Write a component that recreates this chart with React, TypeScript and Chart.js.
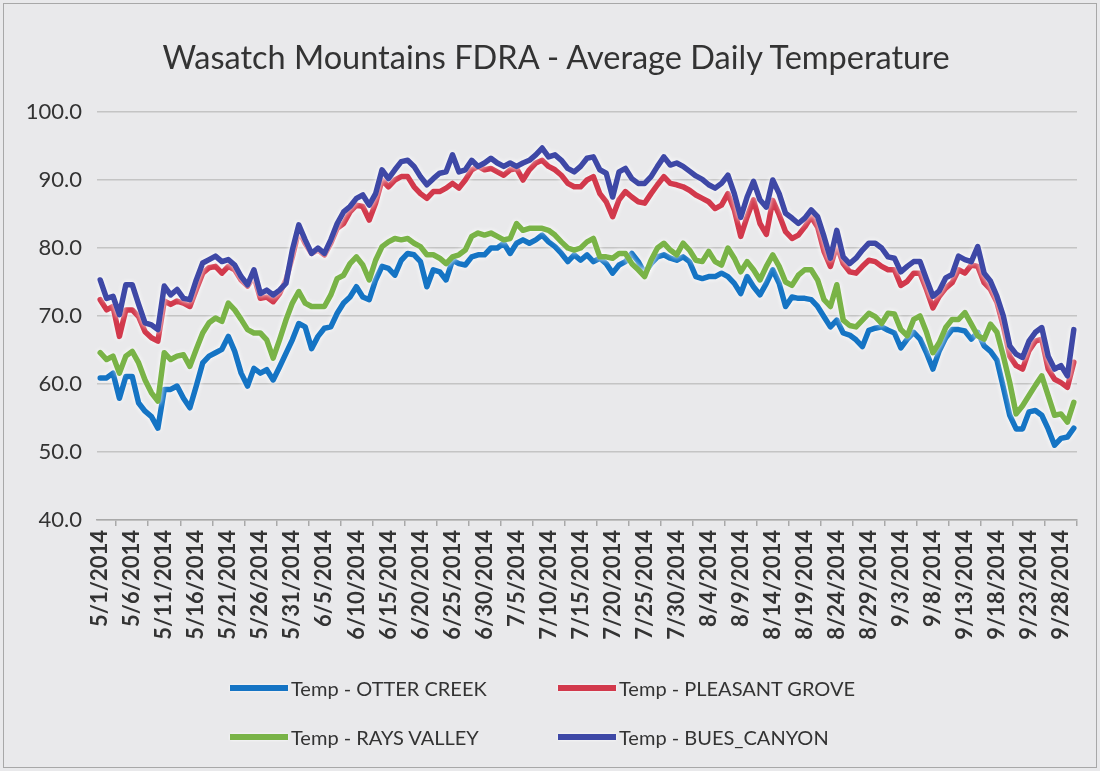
import React, { useEffect, useRef } from 'react';
import { Chart, registerables } from 'chart.js';

Chart.register(...registerables);

// ---- categories ----
const MONTHS = [5, 6, 7, 8, 9];
const MONTH_LENGTHS = [31, 30, 31, 31, 30];
const categories: string[] = [];
MONTHS.forEach((m, k) => {
  for (let d = 1; d <= MONTH_LENGTHS[k]; d++) categories.push(`${m}/${d}/2014`);
});

// ---- series (average daily temperature, °F) ----
const otterCreek = [
  60.9, 60.9, 61.6, 57.9, 61.1, 61.1, 57.2, 56.0, 55.2, 53.5,
  59.2, 59.2, 59.7, 57.9, 56.5, 59.7, 63.1, 64.1, 64.6, 65.1,
  67.0, 64.8, 61.6, 59.7, 62.3, 61.6, 62.1, 60.6, 62.5, 64.5,
  66.5, 68.9, 68.4, 65.2, 67.0, 68.2, 68.4, 70.4, 71.9, 72.8,
  74.3, 72.8, 72.4, 75.3, 77.3, 77.0, 76.0, 78.2, 79.2, 79.0,
  78.0, 74.3, 76.8, 76.5, 75.3, 78.2, 77.7, 77.5, 78.7, 79.0,
  79.0, 80.0, 80.0, 80.7, 79.2, 80.7, 81.2, 80.7, 81.2, 81.9,
  80.9, 80.2, 79.2, 78.0, 79.0, 78.2, 79.0, 78.0, 78.5, 77.7,
  76.3, 77.5, 78.0, 79.2, 78.0, 76.3, 77.7, 78.7, 79.0, 78.5,
  78.2, 78.7, 78.0, 75.8, 75.5, 75.8, 75.8, 76.3, 75.8, 74.8,
  73.3, 75.8, 74.3, 73.1, 74.8, 76.8, 74.8, 71.4, 72.8, 72.6,
  72.6, 72.4, 71.4, 69.9, 68.4, 69.4, 67.5, 67.2, 66.5, 65.5,
  67.9, 68.2, 68.4, 67.9, 67.5, 65.3, 66.6, 67.6, 66.6, 64.6,
  62.2, 64.9, 66.8, 68.0, 68.0, 67.8, 66.6, 67.6, 65.6, 64.8,
  63.5, 59.5, 55.4, 53.4, 53.4, 55.9, 56.1, 55.4, 53.4, 51.0,
  52.0, 52.2, 53.5,
];

const pleasantGrove = [
  72.4, 70.9, 71.4, 67.0, 70.9, 70.9, 69.9, 67.7, 66.8, 66.3,
  72.2, 71.7, 72.2, 71.9, 71.4, 73.9, 76.3, 77.1, 77.3, 76.3,
  77.3, 76.8, 75.3, 74.4, 75.8, 72.6, 72.8, 72.1, 73.3, 75.3,
  78.7, 82.6, 80.7, 79.2, 79.7, 79.0, 80.7, 82.9, 83.6, 85.3,
  86.3, 86.1, 84.1, 86.6, 90.0, 89.0, 90.0, 90.5, 90.5, 89.0,
  88.0, 87.3, 88.3, 88.3, 88.8, 89.5, 88.8, 90.0, 91.5, 92.0,
  91.5, 91.7, 91.2, 90.7, 91.5, 91.7, 90.0, 91.5, 92.5, 92.9,
  92.0, 91.5, 90.7, 89.5, 89.0, 89.0, 90.0, 90.5, 88.0, 86.8,
  84.6, 87.1, 88.3, 87.5, 86.8, 86.6, 88.0, 89.3, 90.5, 89.5,
  89.3, 89.0, 88.5, 87.8, 87.3, 86.8, 85.8, 86.3, 88.0, 85.6,
  81.7, 84.6, 87.1, 83.6, 82.0, 87.0, 84.9, 82.4, 81.4, 81.9,
  83.1, 84.6, 83.1, 79.5, 77.3, 80.4, 77.7, 76.5, 76.3, 77.3,
  78.2, 78.0, 77.3, 76.8, 76.8, 74.5, 75.1, 76.3, 76.3, 73.9,
  71.2, 72.9, 74.1, 74.9, 76.8, 76.3, 77.5, 77.3, 74.9, 73.9,
  72.0, 68.5, 64.1, 62.7, 62.2, 64.9, 66.3, 66.6, 62.2, 60.7,
  60.2, 59.5, 63.2,
];

const raysValley = [
  64.6, 63.6, 64.1, 61.6, 64.1, 64.8, 63.1, 60.6, 58.7, 57.5,
  64.6, 63.6, 64.1, 64.3, 62.6, 65.1, 67.5, 69.0, 69.7, 69.2,
  71.9, 70.9, 69.5, 68.0, 67.5, 67.5, 66.5, 63.8, 66.5, 69.4,
  71.9, 73.6, 71.9, 71.4, 71.4, 71.4, 73.1, 75.5, 76.0, 77.7,
  78.7, 77.5, 75.3, 78.2, 80.2, 80.9, 81.4, 81.2, 81.4, 80.7,
  80.2, 79.0, 79.0, 78.5, 77.7, 78.7, 79.0, 79.7, 81.7, 82.2,
  81.9, 82.2, 81.7, 81.2, 81.4, 83.6, 82.6, 82.9, 82.9, 82.9,
  82.6, 81.9, 80.9, 80.0, 79.7, 80.0, 80.9, 81.4, 78.7, 78.7,
  78.5, 79.2, 79.2, 77.7, 76.8, 75.8, 78.2, 80.0, 80.7, 79.7,
  79.0, 80.7, 79.7, 78.2, 78.0, 79.5, 78.0, 77.5, 80.0, 78.5,
  76.5, 78.0, 76.8, 75.3, 77.3, 79.0, 77.3, 75.0, 74.5, 76.0,
  76.8, 76.8, 75.3, 72.4, 71.4, 74.6, 69.4, 68.6, 68.4, 69.4,
  70.4, 69.9, 68.9, 70.4, 70.3, 68.0, 67.1, 69.5, 70.0, 67.6,
  64.6, 66.1, 68.3, 69.5, 69.5, 70.5, 68.8, 67.1, 66.6, 68.8,
  67.6, 64.1, 60.2, 55.6, 56.8, 58.3, 59.8, 61.2, 58.3, 55.4,
  55.6, 54.4, 57.3,
];

const buesCanyon = [
  75.3, 72.6, 72.9, 70.2, 74.6, 74.6, 71.7, 69.0, 68.7, 68.0,
  74.4, 73.1, 73.9, 72.6, 72.4, 75.3, 77.8, 78.3, 78.8, 78.0,
  78.3, 77.5, 75.8, 74.6, 76.8, 73.3, 73.8, 73.1, 73.8, 74.8,
  79.7, 83.4, 81.2, 79.2, 80.0, 79.2, 81.2, 83.6, 85.3, 86.1,
  87.3, 87.8, 86.3, 88.0, 91.5, 90.2, 91.5, 92.7, 92.9, 92.0,
  90.5, 89.3, 90.2, 91.0, 91.2, 93.7, 91.2, 91.5, 92.9, 92.0,
  92.5, 93.2, 92.5, 92.0, 92.5, 92.0, 92.5, 92.9, 93.7, 94.7,
  93.4, 93.7, 92.9, 91.7, 91.2, 92.0, 93.2, 93.4, 91.5, 91.0,
  87.5, 91.2, 91.7, 90.2, 89.5, 89.5, 90.5, 92.0, 93.4, 92.2,
  92.5, 92.0, 91.3, 90.6, 90.1, 89.3, 88.8, 89.5, 90.7, 88.0,
  84.5, 87.5, 89.8, 87.1, 86.0, 90.0, 88.0, 85.1, 84.4, 83.6,
  84.4, 85.6, 84.6, 81.7, 78.5, 82.6, 78.7, 77.7, 78.5, 79.7,
  80.7, 80.7, 80.0, 78.7, 78.5, 76.5, 77.3, 78.0, 78.0, 75.4,
  72.9, 73.7, 75.6, 76.1, 78.8, 78.3, 78.0, 80.2, 76.3, 75.1,
  72.9, 70.0, 65.6, 64.4, 63.9, 66.3, 67.6, 68.3, 64.1, 62.2,
  62.7, 61.2, 68.0,
];

const seriesNames = [
  'Temp - OTTER CREEK',
  'Temp - PLEASANT GROVE',
  'Temp - RAYS VALLEY',
  'Temp - BUES_CANYON',
];
const seriesColors = ['#1574c4', '#d2394c', '#79b347', '#3e48a6'];
const seriesData = [otterCreek, pleasantGrove, raysValley, buesCanyon];

const Y_MIN = 40;
const Y_MAX = 100;
const Y_STEP = 10;
const LABEL_EVERY = 5;

const TITLE = 'Wasatch Mountains FDRA - Average Daily Temperature';
const FONT = "Lato, 'Liberation Sans', sans-serif";
const TEXT_COLOR = '#333333';
const BG = '#e9e9eb';

const glowPlugin = {
  id: 'lineGlow',
  beforeDatasetDraw(chart: any) {
    const ctx = chart.ctx;
    ctx.save();
    ctx.shadowColor = 'rgba(255,255,255,1)';
    ctx.shadowBlur = 5;
  },
  afterDatasetDraw(chart: any) {
    chart.ctx.restore();
  },
};

// legend placement (layout only)
const legendSlots = [
  { left: 230, top: 688 },
  { left: 558, top: 688 },
  { left: 230, top: 737 },
  { left: 558, top: 737 },
];

export default function App() {
  const canvasRef = useRef<HTMLCanvasElement | null>(null);

  useEffect(() => {
    if (!canvasRef.current) return;
    const chart = new Chart(canvasRef.current, {
      type: 'line',
      data: {
        labels: categories,
        datasets: seriesData.map((d, i) => ({
          label: seriesNames[i],
          data: d,
          borderColor: seriesColors[i],
          backgroundColor: seriesColors[i],
          borderWidth: 5.5,
          pointRadius: 0,
          pointHoverRadius: 0,
          tension: 0,
          fill: false,
          borderJoinStyle: 'round' as const,
          borderCapStyle: 'round' as const,
          order: seriesData.length - 1 - i,
        })),
      },
      options: {
        animation: false,
        responsive: false,
        maintainAspectRatio: false,
        layout: { padding: { left: 0, right: 23, top: 112, bottom: 0 } },
        plugins: {
          legend: { display: false },
          tooltip: { enabled: false },
          title: { display: false },
        },
        scales: {
          x: {
            type: 'category',
            offset: true,
            grid: {
              display: true,
              offset: true,
              drawOnChartArea: false,
              drawTicks: true,
              tickLength: 6,
              color: '#a9a9a9',
              lineWidth: 1.5,
            },
            border: { display: true, color: '#a9a9a9', width: 1.5 },
            ticks: {
              autoSkip: false,
              minRotation: 90,
              maxRotation: 90,
              padding: 4,
              color: TEXT_COLOR,
              font: { family: FONT, size: 22, weight: 'bold' },
              callback: (_v: any, idx: number) =>
                idx % LABEL_EVERY === 0 ? categories[idx] : null,
            },
            afterFit: (scale: any) => {
              scale.height = 251;
            },
          },
          y: {
            min: Y_MIN,
            max: Y_MAX,
            grid: {
              color: '#c4c4c4',
              lineWidth: 1.5,
              drawTicks: false,
            },
            border: { display: false },
            ticks: {
              stepSize: Y_STEP,
              padding: 15,
              color: TEXT_COLOR,
              font: { family: FONT, size: 22, weight: 'normal' },
              callback: (v: any) => Number(v).toFixed(1),
            },
            afterFit: (scale: any) => {
              scale.width = 97;
            },
          },
        },
      },
      plugins: [glowPlugin],
    });
    return () => chart.destroy();
  }, []);

  return (
    <div
      style={{
        position: 'absolute',
        left: 0,
        top: 0,
        width: 1100,
        height: 771,
        background: BG,
        overflow: 'hidden',
      }}
    >
      <canvas ref={canvasRef} width={1100} height={771} style={{ position: 'absolute', left: 0, top: 0 }} />
      <div
        style={{
          position: 'absolute',
          left: 3,
          top: 3,
          width: 1092,
          height: 763,
          border: '1px solid #a8a8a8',
          pointerEvents: 'none',
        }}
      />
      <div
        style={{
          position: 'absolute',
          left: 12,
          top: 37,
          width: 1088,
          height: 40,
          lineHeight: '40px',
          textAlign: 'center',
          fontFamily: FONT,
          fontSize: 32.5,
          color: TEXT_COLOR,
          whiteSpace: 'nowrap',
        }}
      >
        {TITLE}
      </div>
      {seriesNames.map((name, i) => (
        <div
          key={name}
          style={{
            position: 'absolute',
            left: legendSlots[i].left,
            top: legendSlots[i].top - 14,
            height: 28,
            display: 'flex',
            alignItems: 'center',
            fontFamily: FONT,
            fontSize: 20,
            color: TEXT_COLOR,
            whiteSpace: 'nowrap',
          }}
        >
          <span
            style={{
              display: 'inline-block',
              width: 58,
              height: 6,
              background: seriesColors[i],
              marginRight: 3,
              boxShadow: '0 0 3px rgba(255,255,255,0.95)',
            }}
          />
          <span>{name}</span>
        </div>
      ))}
    </div>
  );
}
